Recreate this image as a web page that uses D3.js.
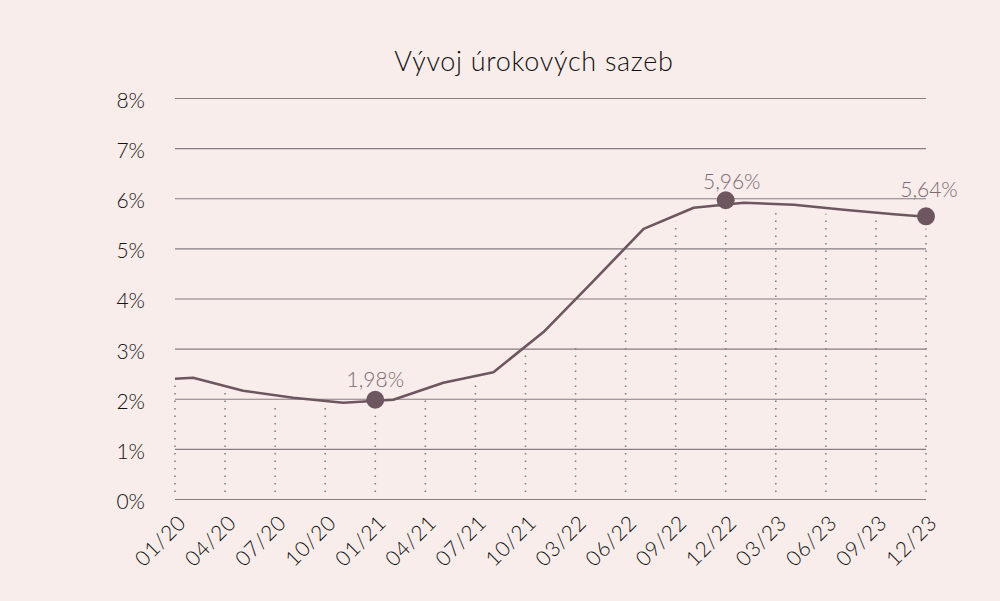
<!DOCTYPE html>
<html><head><meta charset="utf-8">
<script src="https://cdn.jsdelivr.net/npm/d3@7"></script>
<style>
html,body{margin:0;padding:0;background:#f8edea;}
svg{display:block;font-family:Lato, "Open Sans", sans-serif;font-weight:300;}
</style></head>
<body>
<svg id="chart" width="1000" height="601"></svg>
<script>
const title = "Vývoj úrokových sazeb";
const categories = ["01/20","04/20","07/20","10/20","01/21","04/21","07/21","10/21","03/22","06/22","09/22","12/22","03/23","06/23","09/23","12/23"];
const yTicks = [0,1,2,3,4,5,6,7,8];
// line vertices: position along category axis, value in %
const linePos = [0, 0.36, 1.36, 2.36, 3.36, 4.36, 5.36, 6.36, 7.36, 8.36, 9.36, 10.36, 11.36, 12.36, 13.36, 14.36, 15];
const lineVals = [2.40, 2.42, 2.16, 2.02, 1.92, 1.98, 2.32, 2.53, 3.33, 4.35, 5.39, 5.81, 5.91, 5.87, 5.77, 5.68, 5.63];
// dotted drop lines at each category (top value in %)
const dropVals = [2.28, 2.12, 1.92, 1.82, 1.66, 2.04, 2.32, 2.87, 3.13, 4.83, 5.53, 5.61, 5.77, 5.69, 5.57, 5.39];
// highlighted points
const markIdx = [4, 11, 15];
const markVals = [1.98, 5.96, 5.64];
const markLabels = ["1,98%", "5,96%", "5,64%"];

const svg = d3.select("#chart");
const margin = {left:175, right:74, top:98, bottom:102};
const W = 1000, H = 601;
const x = d3.scaleLinear().domain([0, categories.length-1]).range([margin.left, W-margin.right]);
const y = d3.scaleLinear().domain([0, 8]).range([H-margin.bottom, margin.top]);

svg.append("text").attr("x", 534).attr("y", 71).attr("text-anchor","middle")
  .attr("font-size", 27).attr("letter-spacing", 0.7).attr("fill","#141011").text(title);

// gridlines
const yAxis = d3.axisLeft(y).tickValues(yTicks).tickSize(-(x.range()[1]-x.range()[0])).tickFormat(d=>d+"%").tickPadding(30);
const gy = svg.append("g").attr("transform",`translate(${margin.left},0)`).call(yAxis);
gy.select(".domain").remove();
gy.selectAll(".tick line").attr("stroke","#857d80").attr("stroke-width",1.2);
gy.selectAll(".tick text").attr("font-size",21).attr("fill","#161213").attr("dy","0.45em")
  .attr("font-family","Lato, sans-serif").attr("font-weight",300);

// dotted drop lines
svg.append("g").selectAll("line").data(dropVals).join("line")
  .attr("x1",(d,i)=>x(i)).attr("x2",(d,i)=>x(i))
  .attr("y1", y(0)-7).attr("y2", d=>y(d))
  .attr("stroke","#8a7f82").attr("stroke-width",1.6).attr("stroke-dasharray","1.5,6");

// x axis labels
const xAxis = d3.axisBottom(x).tickValues(d3.range(categories.length)).tickFormat(i=>categories[i]).tickSize(0).tickPadding(0);
const gx = svg.append("g").attr("transform",`translate(0,${y(0)})`).call(xAxis);
gx.select(".domain").remove();
gx.selectAll(".tick text").attr("font-size",21).attr("letter-spacing",0.8).attr("fill","#111")
  .attr("font-family","Lato, sans-serif").attr("font-weight",300)
  .attr("text-anchor","end").attr("dy",0).attr("y",0)
  .attr("transform","translate(12,25) rotate(-45)");

// line
const pts = linePos.map((p,i)=>[p, lineVals[i]]);
svg.append("path").datum(pts)
  .attr("d", d3.line().x(d=>x(d[0])).y(d=>y(d[1])))
  .attr("fill","none").attr("stroke","#6e5661").attr("stroke-width",2.6).attr("stroke-linejoin","round");

// markers
svg.append("g").selectAll("circle").data(markIdx).join("circle")
  .attr("cx", d=>x(d)).attr("cy",(d,i)=>y(markVals[i])).attr("r",9).attr("fill","#6e5661");
const labelDx = [0, 6, 3], labelDy = [-13, -11, -19];
svg.append("g").selectAll("text").data(markIdx).join("text")
  .attr("x", (d,i)=>x(d)+labelDx[i]).attr("y",(d,i)=>y(markVals[i])+labelDy[i])
  .attr("text-anchor","middle").attr("font-size",21).attr("fill","#7d6a72")
  .text((d,i)=>markLabels[i]);
</script>
</body></html>
